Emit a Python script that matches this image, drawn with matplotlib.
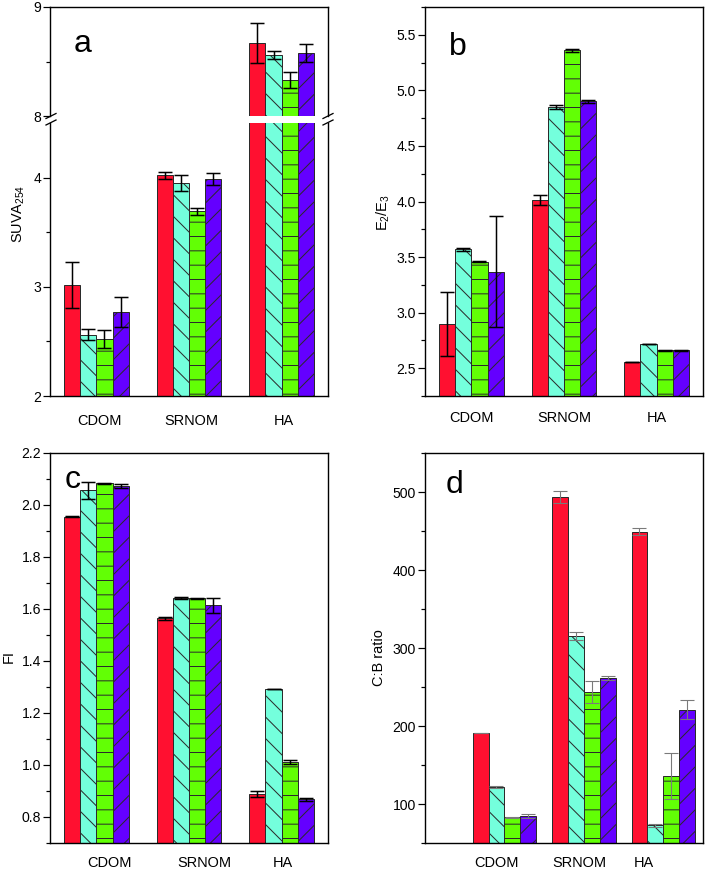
import numpy as np
import matplotlib
matplotlib.use('Agg')
import matplotlib.pyplot as plt
from matplotlib.ticker import MultipleLocator, FixedLocator, FormatStrFormatter
from matplotlib.transforms import blended_transform_factory
from matplotlib.lines import Line2D

# ---------------- data ----------------
categories = ['CDOM', 'SRNOM', 'HA']
series_colors = ['#FF1030', '#74FFDC', '#62FF05', '#6400FF']
series_hatches = ['', '\\\\\\\\', '---', '////']

# rows = categories, columns = the four series
suva_vals = [[3.02, 2.56, 2.52, 2.77],
             [4.02, 3.95, 3.69, 3.99],
             [8.67, 8.56, 8.33, 8.58]]
suva_err = [[0.21, 0.05, 0.08, 0.14],
            [0.03, 0.07, 0.035, 0.055],
            [0.18, 0.04, 0.07, 0.08]]

e2e3_vals = [[2.90, 3.57, 3.46, 3.37],
             [4.01, 4.85, 5.36, 4.90],
             [2.56, 2.72, 2.66, 2.66]]
e2e3_err = [[0.29, 0.015, 0.005, 0.50],
            [0.045, 0.015, 0.012, 0.01],
            [0.0, 0.0, 0.005, 0.005]]

fi_vals = [[1.954, 2.056, 2.083, 2.074],
           [1.564, 1.642, 1.641, 1.614],
           [0.888, 1.292, 1.011, 0.868]]
fi_err = [[0.002, 0.032, 0.002, 0.008],
          [0.005, 0.003, 0.002, 0.028],
          [0.011, 0.001, 0.008, 0.005]]

cb_vals = [[191, 122, 83, 85],
           [493, 315, 244, 261],
           [449, 72.5, 136, 221]]
cb_err = [[0.0, 1.0, 0.5, 2.5],
          [7.7, 5.0, 14.0, 2.6],
          [4.7, 2.5, 30.0, 12.5]]

# ---------------- setup ----------------
DPI = 258
W, H = 705, 869
PT = 72.0 / DPI   # points per pixel

plt.rcParams['font.family'] = ['Liberation Sans', 'DejaVu Sans']
plt.rcParams['mathtext.default'] = 'regular'
plt.rcParams['hatch.linewidth'] = 1.0 * PT

fig = plt.figure(figsize=(W / DPI, H / DPI), dpi=DPI)
fig.patch.set_facecolor('white')


def make_ax(l, t, r, b):
    return fig.add_axes([l / W, 1 - b / H, (r - l) / W, (b - t) / H])


def style_ax(ax):
    for s in ax.spines.values():
        s.set_linewidth(1.4 * PT)
    ax.tick_params(axis='x', bottom=False, labelbottom=False)
    ax.tick_params(axis='y', which='major', direction='out', length=7 * PT,
                   width=1.2 * PT, labelsize=14 * PT, pad=2 * PT)
    ax.tick_params(axis='y', which='minor', direction='out', length=4 * PT,
                   width=1.2 * PT)


def draw_bars(ax, vals, errs, width, ecolor, elw):
    x = np.arange(1, len(categories) + 1)
    vals = np.asarray(vals, float)
    errs = np.asarray(errs, float)
    for j in range(vals.shape[1]):
        xs = x + (j - 1.5) * width
        ax.bar(xs, vals[:, j], width, color=series_colors[j],
               edgecolor='#2b2b2b', linewidth=1.0 * PT,
               hatch=series_hatches[j], zorder=2)
        ax.errorbar(xs, vals[:, j], yerr=errs[:, j], fmt='none',
                    ecolor=ecolor, elinewidth=elw * PT, capsize=7 * PT,
                    capthick=elw * PT, zorder=3)


def cat_labels(ax, xpos, baseline_px):
    tr = blended_transform_factory(ax.transData, fig.transFigure)
    for xp, lab in zip(xpos, categories):
        ax.text(xp, 1 - baseline_px / H, lab, transform=tr, ha='center',
                va='baseline', fontsize=14.5 * PT)


def panel_letter(x_px, base_px, s):
    fig.text(x_px / W, 1 - base_px / H, s, ha='center', va='baseline',
             fontsize=32 * PT)


def ylab(x_px, y_px, s):
    fig.text(x_px / W, 1 - y_px / H, s, rotation=90, ha='center',
             va='center', fontsize=14.5 * PT)


# ---------------- panel a (broken axis) ----------------
a_up = make_ax(50, 7, 328, 116)
a_lo = make_ax(50, 123, 328, 396)
for ax in (a_up, a_lo):
    style_ax(ax)
    draw_bars(ax, suva_vals, suva_err, 0.175, 'black', 1.5)
    ax.set_xlim(0.5, 3.5)
a_up.set_ylim(8, 9)
a_up.yaxis.set_major_locator(FixedLocator([8, 9]))
a_up.yaxis.set_minor_locator(FixedLocator([8.5]))
a_up.spines['bottom'].set_visible(False)
a_lo.set_ylim(2, 4.5)
a_lo.yaxis.set_major_locator(FixedLocator([2, 3, 4]))
a_lo.yaxis.set_minor_locator(FixedLocator([2.5, 3.5]))
a_lo.spines['top'].set_visible(False)
cat_labels(a_lo, [1.03, 2.03, 3.02], 425)
panel_letter(83, 52, 'a')
ylab(19, 214, 'SUVA$_{254}$')

# break marks
for xc in (51, 328):
    for yc in (116, 122.5):
        fig.add_artist(Line2D([(xc - 5) / W, (xc + 5) / W],
                              [1 - (yc + 2.5) / H, 1 - (yc - 2.5) / H],
                              transform=fig.transFigure, color='black',
                              lw=1.3 * PT))

# ---------------- panel b ----------------
b = make_ax(425, 7, 703, 396)
style_ax(b)
draw_bars(b, e2e3_vals, e2e3_err, 0.175, 'black', 1.5)
b.set_xlim(0.5, 3.5)
b.set_ylim(2.25, 5.75)
b.yaxis.set_major_locator(FixedLocator([2.5, 3.0, 3.5, 4.0, 4.5, 5.0, 5.5]))
b.yaxis.set_minor_locator(MultipleLocator(0.25))
b.yaxis.set_major_formatter(FormatStrFormatter('%.1f'))
cat_labels(b, [1.0, 2.0, 3.0], 422)
panel_letter(458, 55, 'b')
ylab(383, 213, 'E$_2$/E$_3$')

# ---------------- panel c ----------------
c = make_ax(50, 453, 328, 843)
style_ax(c)
draw_bars(c, fi_vals, fi_err, 0.175, 'black', 1.5)
c.set_xlim(0.5, 3.5)
c.set_ylim(0.7, 2.2)
c.yaxis.set_major_locator(FixedLocator([0.8, 1.0, 1.2, 1.4, 1.6, 1.8, 2.0, 2.2]))
c.yaxis.set_minor_locator(MultipleLocator(0.1))
c.yaxis.set_major_formatter(FormatStrFormatter('%.1f'))
cat_labels(c, [1.137, 2.17, 3.01], 867)
panel_letter(73, 488, 'c')
ylab(9, 657, 'FI')

# ---------------- panel d ----------------
d = make_ax(425, 453, 703, 843)
style_ax(d)
draw_bars(d, cb_vals, cb_err, 0.2, '#7a7a7a', 1.1)
d.set_xlim(0.0, 3.5)
d.set_ylim(50, 550)
d.yaxis.set_major_locator(FixedLocator([100, 200, 300, 400, 500]))
d.yaxis.set_minor_locator(MultipleLocator(50))
cat_labels(d, [0.894, 1.94, 2.757], 867)
panel_letter(454, 493, 'd')
ylab(379, 658, 'C:B ratio')

fig.savefig('out.png', dpi=DPI, facecolor='white')
